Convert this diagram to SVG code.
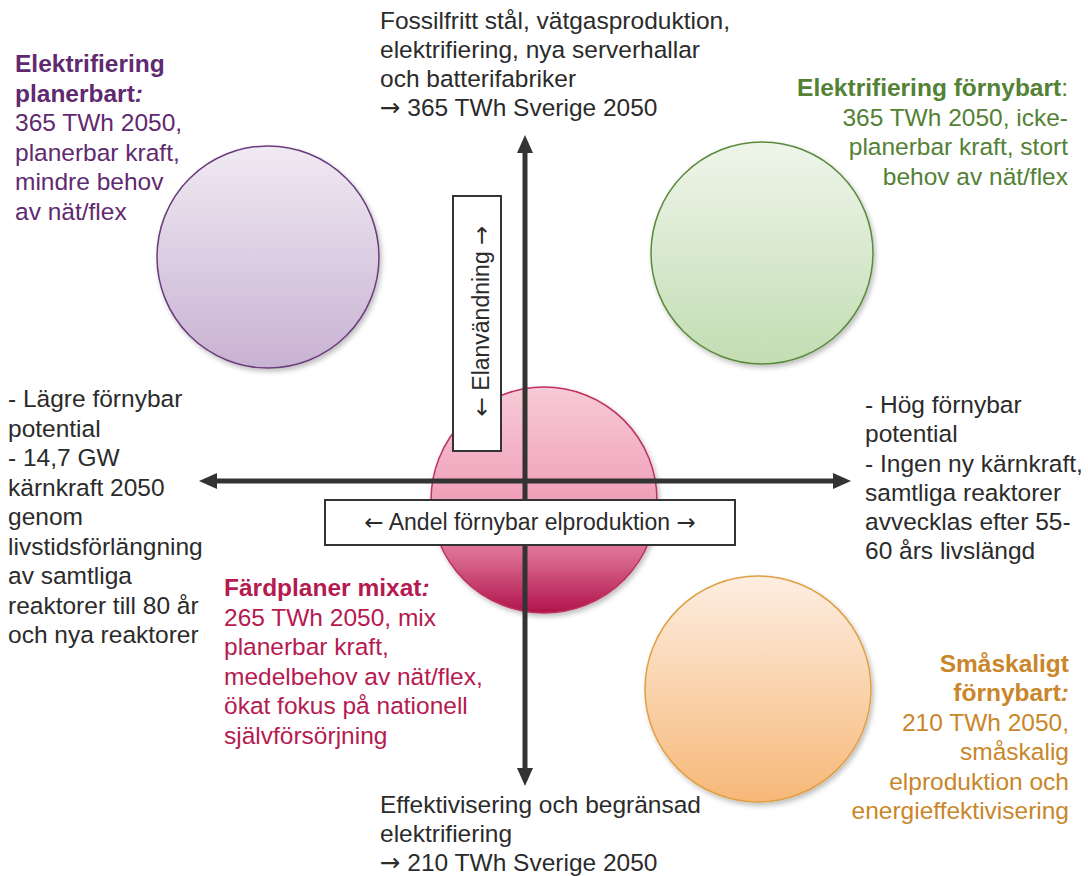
<svg xmlns="http://www.w3.org/2000/svg" width="1088" height="876" viewBox="0 0 1088 876">
<style>
text{font-family:"Liberation Sans",Arial,sans-serif;font-size:24.5px}
.ar{font-family:"DejaVu Sans",sans-serif;font-weight:normal}
.dk{fill:#2b2b2b}
.pu{fill:#5f2a6f}
.gr{fill:#538135}
.pk{fill:#b51a50}
.or{fill:#c9862a}
.b{font-weight:bold}
.bi{font-weight:bold;font-style:italic}
.ax{stroke:#333;stroke-width:5;fill:none}
.box{fill:#fff;stroke:#333;stroke-width:2}
</style>
<defs>
<linearGradient id="gPu" x1="0" y1="0" x2="0" y2="1"><stop offset="0" stop-color="#f0eaf3"/><stop offset="1" stop-color="#c8b2d2"/></linearGradient>
<linearGradient id="gGr" x1="0" y1="0" x2="0" y2="1"><stop offset="0" stop-color="#eef5ea"/><stop offset="1" stop-color="#c3ddb3"/></linearGradient>
<linearGradient id="gPk" x1="0" y1="0" x2="0" y2="1"><stop offset="0" stop-color="#f7cad6"/><stop offset="0.5" stop-color="#f0a0b9"/><stop offset="0.75" stop-color="#da6a90"/><stop offset="1" stop-color="#b0134b"/></linearGradient>
<linearGradient id="gOr" x1="0" y1="0" x2="0" y2="1"><stop offset="0" stop-color="#fdeee2"/><stop offset="1" stop-color="#f7b878"/></linearGradient>
<filter id="sh" x="-10%" y="-10%" width="125%" height="125%"><feDropShadow dx="2" dy="3" stdDeviation="2.5" flood-color="#000" flood-opacity="0.25"/></filter>
<marker id="ah" viewBox="0 -8 18 16" refX="0" refY="0" markerWidth="18" markerHeight="16" markerUnits="userSpaceOnUse" orient="auto-start-reverse"><path d="M0,-8 L18,0 L0,8 z" fill="#333"/></marker>
</defs>

<g id="circle-planerbart"><circle cx="268" cy="257" r="111" fill="url(#gPu)" stroke="#6b3c7d" stroke-width="1.5" filter="url(#sh)"/></g>
<g id="circle-fornybart"><circle cx="762" cy="253" r="111" fill="url(#gGr)" stroke="#5b8a3c" stroke-width="1.5" filter="url(#sh)"/></g>
<g id="circle-mixat"><circle cx="544" cy="500" r="113" fill="url(#gPk)" stroke="#c0305f" stroke-width="1.5" filter="url(#sh)"/></g>
<g id="circle-smaskaligt"><circle cx="758" cy="689" r="113" fill="url(#gOr)" stroke="#dfa043" stroke-width="1.5" filter="url(#sh)"/></g>

<g id="connectors">
<line class="ax" x1="525" y1="768" x2="525" y2="153" marker-start="url(#ah)" marker-end="url(#ah)"/>
<line class="ax" x1="217" y1="481" x2="833" y2="481" marker-start="url(#ah)" marker-end="url(#ah)"/>
</g>

<g id="label-elanvandning">
<rect class="box" x="453" y="196" width="48" height="255"/>
<text class="dk" transform="translate(489,321) rotate(-90)" text-anchor="middle" style="font-size:23px"><tspan class="ar">←</tspan> Elanvändning <tspan class="ar">→</tspan></text>
</g>
<g id="label-andel">
<rect class="box" x="325" y="500" width="410" height="45"/>
<text class="dk" x="530" y="530" text-anchor="middle" style="font-size:23px"><tspan class="ar">←</tspan> Andel förnybar elproduktion <tspan class="ar">→</tspan></text>
</g>

<g id="text-top">
<text class="dk" x="380" y="29">Fossilfritt stål, vätgasproduktion,</text>
<text class="dk" x="380" y="58">elektrifiering, nya serverhallar</text>
<text class="dk" x="380" y="87">och batterifabriker</text>
<text class="dk" x="380" y="116"><tspan class="ar">→</tspan> 365 TWh Sverige 2050</text>
</g>

<g id="text-bottom">
<text class="dk" x="380" y="813">Effektivisering och begränsad</text>
<text class="dk" x="380" y="842">elektrifiering</text>
<text class="dk" x="380" y="871"><tspan class="ar">→</tspan> 210 TWh Sverige 2050</text>
</g>

<g id="text-planerbart">
<text class="pu b" x="15" y="72">Elektrifiering</text>
<text class="pu" x="15" y="101.5"><tspan class="b">planerbart</tspan><tspan class="bi">:</tspan></text>
<text class="pu" x="15" y="131">365 TWh 2050,</text>
<text class="pu" x="15" y="160.5">planerbar kraft,</text>
<text class="pu" x="15" y="190">mindre behov</text>
<text class="pu" x="15" y="219.5">av nät/flex</text>
</g>

<g id="text-fornybart">
<text class="gr" x="1068" y="96" text-anchor="end"><tspan class="b">Elektrifiering förnybart</tspan>:</text>
<text class="gr" x="1068" y="125.5" text-anchor="end">365 TWh 2050, icke-</text>
<text class="gr" x="1068" y="155" text-anchor="end">planerbar kraft, stort</text>
<text class="gr" x="1068" y="184.5" text-anchor="end">behov av nät/flex</text>
</g>

<g id="text-left">
<text class="dk" x="8" y="407">- Lägre förnybar</text>
<text class="dk" x="8" y="436.5">potential</text>
<text class="dk" x="8" y="466">- 14,7 GW</text>
<text class="dk" x="8" y="495.5">kärnkraft 2050</text>
<text class="dk" x="8" y="525">genom</text>
<text class="dk" x="8" y="554.5">livstidsförlängning</text>
<text class="dk" x="8" y="584">av samtliga</text>
<text class="dk" x="8" y="613.5">reaktorer till 80 år</text>
<text class="dk" x="8" y="643">och nya reaktorer</text>
</g>

<g id="text-right">
<text class="dk" x="865" y="413">- Hög förnybar</text>
<text class="dk" x="865" y="442">potential</text>
<text class="dk" x="865" y="471.5">- Ingen ny kärnkraft,</text>
<text class="dk" x="865" y="501">samtliga reaktorer</text>
<text class="dk" x="865" y="530">avvecklas efter 55-</text>
<text class="dk" x="865" y="559">60 års livslängd</text>
</g>

<g id="text-mixat">
<text class="pk" x="224" y="596"><tspan class="b">Färdplaner mixat</tspan><tspan class="bi">:</tspan></text>
<text class="pk" x="224" y="625.5">265 TWh 2050, mix</text>
<text class="pk" x="224" y="655">planerbar kraft,</text>
<text class="pk" x="224" y="684.5">medelbehov av nät/flex,</text>
<text class="pk" x="224" y="714">ökat fokus på nationell</text>
<text class="pk" x="224" y="743.5">självförsörjning</text>
</g>

<g id="text-smaskaligt">
<text class="or b" x="1069" y="672" text-anchor="end">Småskaligt</text>
<text class="or" x="1069" y="701" text-anchor="end"><tspan class="b">förnybart</tspan><tspan class="bi">:</tspan></text>
<text class="or" x="1069" y="731" text-anchor="end">210 TWh 2050,</text>
<text class="or" x="1069" y="760" text-anchor="end">småskalig</text>
<text class="or" x="1069" y="790" text-anchor="end">elproduktion och</text>
<text class="or" x="1069" y="819" text-anchor="end">energieffektivisering</text>
</g>
</svg>
